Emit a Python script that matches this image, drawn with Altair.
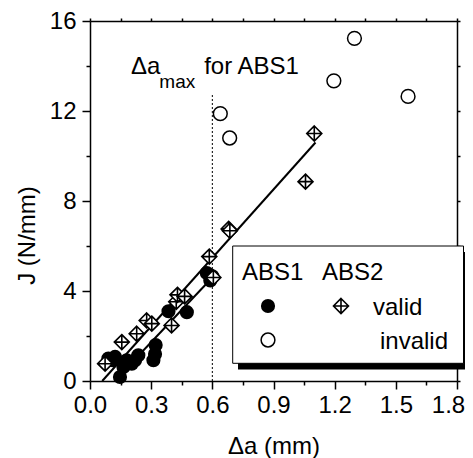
import altair as alt
import pandas as pd

# ---- data ----
abs1_valid_x = [0.09, 0.11, 0.123, 0.147, 0.164, 0.18, 0.205, 0.221, 0.237, 0.311, 0.319, 0.322, 0.385, 0.475, 0.573, 0.59, 0.60]
abs1_valid_y = [1.0, 0.92, 1.07, 0.18, 0.62, 0.92, 0.77, 0.92, 1.14, 0.92, 1.2, 1.6, 3.1, 3.06, 4.8, 4.47, 4.65]

abs2_valid_x = [0.074, 0.156, 0.229, 0.278, 0.303, 0.40, 0.423, 0.429, 0.464, 0.585, 0.605, 0.68, 0.686, 1.057, 1.10]
abs2_valid_y = [0.77, 1.73, 2.1, 2.69, 2.55, 2.47, 3.52, 3.83, 3.76, 5.53, 4.6, 6.76, 6.68, 8.86, 11.0]

abs1_invalid_x = [0.639, 0.685, 1.196, 1.297, 1.56]
abs1_invalid_y = [11.88, 10.8, 13.34, 15.23, 12.65]

fit_abs2_x = [0.06, 1.106]
fit_abs2_y = [0.0, 10.6]
fit_abs1_x = [0.12, 0.60]
fit_abs1_y = [0.0, 4.6]

da_max = 0.6
da_max_top = 12.8

x_ticks = [0.0, 0.15, 0.3, 0.45, 0.6, 0.75, 0.9, 1.05, 1.2, 1.35, 1.5, 1.65, 1.8]
y_ticks = [0, 2, 4, 6, 8, 10, 12, 14, 16]

FONT = "Liberation Sans"

xs = alt.Scale(domain=[0, 1.8], nice=False, zero=False)
ys = alt.Scale(domain=[0, 16], nice=False, zero=False)

major_x = "abs(datum.value/0.3 - round(datum.value/0.3)) < 0.001"
major_y = "abs(datum.value/4 - round(datum.value/4)) < 0.001"

common_axis = dict(grid=False, domainColor="black", tickColor="black", domainWidth=1.5,
                   tickWidth=1.5, labelColor="black", titleColor="black",
                   labelFont=FONT, titleFont=FONT, labelFontSize=24, titleFontSize=24,
                   titleFontWeight="normal", labelFlush=False, labelOverlap=False, zindex=0)

x_axis = alt.Axis(title="Δa (mm)", values=x_ticks, orient="bottom",
                  labelExpr=f"{major_x} ? format(datum.value, '.1f') : ''",
                  tickSize={"condition": {"test": major_x, "value": 8}, "value": 4},
                  labelOffset={"condition": {"test": "datum.value > 1.75", "value": -9}, "value": 0},
                  labelPadding=4, titleY=65, titleBaseline="middle", **common_axis)
y_axis = alt.Axis(title="J (N/mm)", values=y_ticks, orient="left",
                  labelExpr=f"{major_y} ? format(datum.value, 'd') : ''",
                  tickSize={"condition": {"test": major_y, "value": 8}, "value": 4},
                  labelPadding=6, titleX=-63, titleY=214, titleAngle=-90,
                  titleBaseline="middle", titleAlign="center", **common_axis)

x_top = alt.Axis(title=None, values=x_ticks, orient="top", labels=False, tickSize=3,
                 grid=False, domain=True, domainColor="black", domainWidth=1.5,
                 tickColor="black", tickWidth=1.5, zindex=0)
y_right = alt.Axis(title=None, values=y_ticks, orient="right", labels=False, tickSize=3,
                   grid=False, domain=True, domainColor="black", domainWidth=1.5,
                   tickColor="black", tickWidth=1.5, zindex=0)

df_v1 = pd.DataFrame({"x": abs1_valid_x, "y": abs1_valid_y})
df_v2 = pd.DataFrame({"x": abs2_valid_x, "y": abs2_valid_y})
df_inv = pd.DataFrame({"x": abs1_invalid_x, "y": abs1_invalid_y})
df_f2 = pd.DataFrame({"x": fit_abs2_x, "y": fit_abs2_y})
df_f1 = pd.DataFrame({"x": fit_abs1_x, "y": fit_abs1_y})
df_rule = pd.DataFrame({"x": [da_max], "y": [0.0], "y2": [da_max_top]})


def X(ax=None):
    return alt.X("x:Q", scale=xs, axis=ax)


def Y(ax=None):
    return alt.Y("y:Q", scale=ys, axis=ax)


fit2 = alt.Chart(df_f2).mark_line(color="black", strokeWidth=2).encode(x=X(), y=Y())
fit1 = alt.Chart(df_f1).mark_line(color="black", strokeWidth=2).encode(x=X(), y=Y())
rule = alt.Chart(df_rule).mark_rule(color="black", strokeWidth=1, strokeDash=[2, 2]).encode(
    x=X(), y=Y(), y2="y2:Q")

filled = alt.Chart(df_v1).mark_point(shape="circle", filled=True, color="black", size=200, opacity=1).encode(
    x=X(x_axis), y=Y(y_axis))

diamond_path = "M0,-1L1,0L0,1L-1,0Z M0,-1L0,1 M-1,0L1,0"
diamonds = alt.Chart(df_v2).mark_point(shape=diamond_path, filled=True, fill="white", stroke="black",
                                       strokeWidth=1.6, size=225, opacity=1).encode(x=X(), y=Y())

opens = alt.Chart(df_inv).mark_point(shape="circle", filled=True, fill="white", stroke="black",
                                     strokeWidth=1.5, size=190, opacity=1).encode(
    x=X(x_top), y=Y(y_right))

# annotation  "Δa_max for ABS1"
ann = pd.DataFrame({"x": [0.201, 0.34, 0.56], "y": [13.65, 13.04, 13.65],
                    "t": ["Δa", "max", "for ABS1"], "s": [24, 19, 24]})
ann_text = alt.Chart(ann).mark_text(align="left", baseline="alphabetic", font=FONT, color="black").encode(
    x=X(), y=Y(), text="t:N", size=alt.Size("s:Q", scale=None, legend=None))

# legend (drawn as decoration, in pixels of the plot area)
one = pd.DataFrame({"a": [0]})
shadow = alt.Chart(one).mark_rect(color="black").encode(
    x=alt.value(148), x2=alt.value(390), y=alt.value(231), y2=alt.value(348.5))
box = alt.Chart(one).mark_rect(fill="white", stroke="black", strokeWidth=1).encode(
    x=alt.value(142.7), x2=alt.value(373.5), y=alt.value(225), y2=alt.value(342.3))

leg_txt = pd.DataFrame({"px": [152, 232, 283, 290], "py": [259, 259, 294, 328],
                        "t": ["ABS1", "ABS2", "valid", "invalid"]})
legend_text = alt.Chart(leg_txt).mark_text(align="left", baseline="alphabetic", font=FONT, fontSize=24,
                                           color="black").encode(
    x=alt.X("px:Q", scale=None), y=alt.Y("py:Q", scale=None), text="t:N")

leg_f = alt.Chart(one).mark_point(shape="circle", filled=True, color="black", size=200, opacity=1).encode(
    x=alt.value(178), y=alt.value(285))
leg_d = alt.Chart(one).mark_point(shape=diamond_path, filled=True, fill="white", stroke="black",
                                  strokeWidth=1.6, size=225, opacity=1).encode(x=alt.value(251), y=alt.value(285))
leg_o = alt.Chart(one).mark_point(shape="circle", filled=True, fill="white", stroke="black",
                                  strokeWidth=1.5, size=190, opacity=1).encode(x=alt.value(178), y=alt.value(319))

chart = alt.layer(
    rule, fit2, fit1, filled, diamonds, opens, ann_text,
    shadow, box, legend_text, leg_f, leg_d, leg_o
).resolve_axis(x="independent", y="independent").properties(
    width=367, height=360,
    autosize=alt.AutoSizeParams(type="none"),
    padding={"left": 82, "top": 13, "right": 8, "bottom": 77},
).configure_view(stroke=None)

chart.save("out.html", embed_options={"renderer": "svg", "actions": False})
